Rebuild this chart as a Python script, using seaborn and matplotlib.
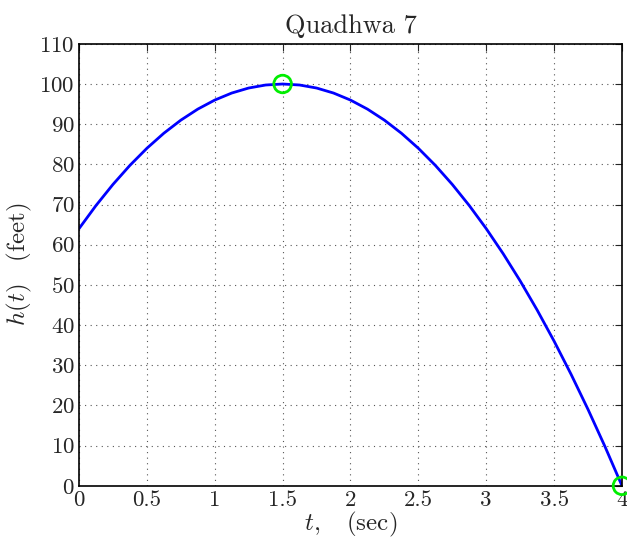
import matplotlib
matplotlib.use("Agg")
import matplotlib.pyplot as plt
import seaborn as sns
import pandas as pd

# samples
t_vals = [0, 0.125, 0.25, 0.375, 0.5, 0.625, 0.75, 0.875, 1, 1.125, 1.25, 1.375,
          1.5, 1.625, 1.75, 1.875, 2, 2.125, 2.25, 2.375, 2.5, 2.625, 2.75, 2.875,
          3, 3.125, 3.25, 3.375, 3.5, 3.625, 3.75, 3.875, 4]
h_vals = [64, 69.75, 75, 79.75, 84, 87.75, 91, 93.75, 96, 97.75, 99, 99.75,
          100, 99.75, 99, 97.75, 96, 93.75, 91, 87.75, 84, 79.75, 75, 69.75,
          64, 57.75, 51, 43.75, 36, 27.75, 19, 9.75, 0]

# marked points: vertex and landing
mark_t = [1.5, 4]
mark_h = [100, 0]

x_ticks = [0, 0.5, 1, 1.5, 2, 2.5, 3, 3.5, 4]
x_labels = ["0", "0.5", "1", "1.5", "2", "2.5", "3", "3.5", "4"]
y_ticks = list(range(0, 111, 10))

sns.set_style("white")
plt.rcParams["font.family"] = ["cmr10", "DejaVu Serif"]
plt.rcParams["mathtext.fontset"] = "cm"
plt.rcParams["axes.formatter.use_mathtext"] = True

df = pd.DataFrame({"t": t_vals, "h": h_vals})
marks = pd.DataFrame({"t": mark_t, "h": mark_h})

fig, ax = plt.subplots(figsize=(6.27, 5.41), dpi=100)
fig.subplots_adjust(left=0.126, right=0.992, top=0.919, bottom=0.102)

sns.lineplot(data=df, x="t", y="h", ax=ax, color="#0000ff", linewidth=2)
sns.scatterplot(data=marks, x="t", y="h", ax=ax, s=160, facecolors="none",
                edgecolor="#00ee00", linewidth=2, zorder=5, clip_on=False)

ax.set_xlim(0, 4)
ax.set_ylim(0, 110)
ax.set_xticks(x_ticks)
ax.set_xticklabels(x_labels)
ax.set_yticks(y_ticks)
ax.grid(True, linestyle=(0, (1, 4)), color="#555555", linewidth=0.8)
ax.tick_params(direction="in", top=True, right=True, length=5, labelsize=16.5, pad=3)
for sp in ax.spines.values():
    sp.set_linewidth(1.2)
    sp.set_color("black")

ax.set_title("Quadhwa 7", fontsize=19, pad=8)
ax.set_xlabel(r"$t,\quad$(sec)", fontsize=18, labelpad=0)
ax.set_ylabel(r"$h(t)\quad$(feet)", fontsize=18, labelpad=4)

plt.savefig("out.png", dpi=100)
plt.close()
